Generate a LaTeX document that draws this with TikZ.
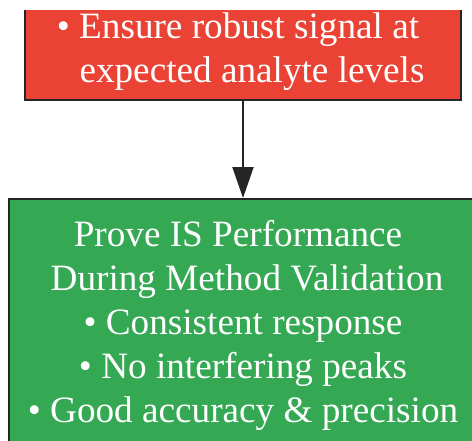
\documentclass[tikz,border=0pt]{standalone}
\usepackage{fontspec}
\setmainfont{Liberation Serif}
\usetikzlibrary{arrows.meta}
\definecolor{boxred}{HTML}{EA4335}
\definecolor{boxgreen}{HTML}{34A853}
\definecolor{edgecol}{HTML}{262626}
\tikzset{
  box/.style={draw=edgecol, line width=2pt, inner sep=0pt},
  txtline/.style={text=white, font=\fontsize{37.2}{44}\selectfont, anchor=base, inner sep=0pt},
  conn/.style={draw=edgecol, line width=2pt, -{Triangle[length=31pt,width=21pt]}}
}
\begin{document}
\begin{tikzpicture}[x=1pt,y=-1pt]
\useasboundingbox (0,0) rectangle (472,440);
\clip (0,10) rectangle (472,440);
\node[box, fill=boxred, minimum width=436pt, minimum height=120pt] (ensure) at (243,40) {};
\node[box, fill=boxgreen, minimum width=468pt, minimum height=262pt] (prove) at (243,330) {};
\node[txtline] (e1) at (238,38) {• Ensure robust signal at};
\node[txtline] (e2) at (252,82) {expected analyte levels};
\node[txtline] (p1) at (238,246) {Prove IS Performance};
\node[txtline] (p2) at (247,290) {During Method Validation};
\node[txtline] (p3) at (243,334) {• Consistent response};
\node[txtline] (p4) at (243,378) {• No interfering peaks};
\node[txtline] (p5) at (243,422) {• Good accuracy \& precision};
\draw[conn] (ensure.south) -- (prove.north);
\end{tikzpicture}
\end{document}
